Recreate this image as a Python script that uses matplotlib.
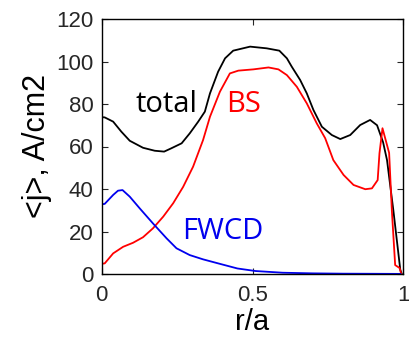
import matplotlib
matplotlib.use("Agg")
import matplotlib.pyplot as plt

# r/a grid and current density profiles (A/cm2)
r_total = [0.0, 0.01, 0.038, 0.065, 0.093, 0.137, 0.176, 0.207, 0.23, 0.265,
           0.292, 0.32, 0.342, 0.359, 0.386, 0.409, 0.436, 0.492, 0.547, 0.589,
           0.614, 0.63, 0.658, 0.68, 0.702, 0.73, 0.763, 0.791, 0.824, 0.857,
           0.89, 0.913, 0.933, 0.946, 0.967, 0.99, 0.995]
j_total = [73.8, 73.7, 71.7, 67.0, 62.7, 59.4, 58.0, 57.6, 59.1, 61.5,
           66.2, 71.7, 76.4, 85.0, 95.2, 101.5, 105.1, 107.0, 106.2, 105.1,
           101.5, 97.6, 91.3, 85.0, 77.2, 69.3, 65.4, 63.5, 65.4, 70.1,
           72.5, 70.0, 62.0, 53.6, 30.0, 2.0, 0.0]

r_bs = [0.0, 0.01, 0.038, 0.071, 0.104, 0.137, 0.17, 0.204, 0.237, 0.27,
        0.303, 0.336, 0.359, 0.392, 0.425, 0.453, 0.503, 0.553, 0.586, 0.614,
        0.647, 0.68, 0.713, 0.741, 0.768, 0.802, 0.835, 0.874, 0.896, 0.915,
        0.921, 0.931, 0.953, 0.962, 0.973, 0.988, 0.993]
j_bs = [4.8, 5.0, 9.7, 12.8, 14.7, 17.3, 21.5, 27.0, 33.3, 41.0,
        50.5, 63.0, 74.0, 85.8, 94.4, 95.7, 96.3, 97.2, 96.3, 93.6,
        88.1, 80.3, 70.9, 63.9, 53.6, 46.6, 41.9, 39.9, 40.3, 44.2,
        56.8, 68.6, 57.0, 30.0, 4.2, 2.8, 0.0]

r_fw = [0.0, 0.01, 0.038, 0.054, 0.069, 0.093, 0.126, 0.17, 0.215, 0.248,
        0.292, 0.336, 0.386, 0.45, 0.51, 0.6, 0.7, 0.8, 0.9, 0.99]
j_fw = [32.8, 33.0, 37.2, 39.2, 39.5, 36.4, 30.9, 23.8, 16.8, 12.1,
        8.9, 6.9, 5.0, 2.6, 1.4, 0.6, 0.3, 0.15, 0.1, 0.05]

labels = ["total", "BS", "FWCD"]
label_pos = [(0.215, 76.2), (0.47, 76.2), (0.4, 16.5)]
colors = ["black", "#ff0000", "#0000ee"]

fig = plt.figure(figsize=(4.1, 3.42), dpi=100)
ax = fig.add_axes([101.7 / 410, 68 / 342, 301.6 / 410, 255 / 342])

ax.plot(r_total, j_total, color=colors[0], lw=1.3)
ax.plot(r_bs, j_bs, color=colors[1], lw=1.3)
ax.plot(r_fw, j_fw, color=colors[2], lw=1.3)

for text, (x, y), c in zip(labels, label_pos, colors):
    ax.text(x, y, text, color=c, fontsize=21, family="Open Sans",
            ha="center", va="baseline")

ax.set_xlim(0, 1)
ax.set_ylim(0, 120)
ax.set_xticks([0, 0.5, 1])
ax.set_xticklabels(["0", "0.5", "1"])
ax.set_yticks([0, 20, 40, 60, 80, 100, 120])
ax.tick_params(direction="in", top=True, right=True, length=4, width=0.8,
               labelsize=16, colors="#262626", labelcolor="#262626")
ax.tick_params(axis="x", pad=8)
ax.tick_params(axis="y", pad=6)
for lbl in ax.get_xticklabels() + ax.get_yticklabels():
    lbl.set_family("Liberation Sans")
for s in ax.spines.values():
    s.set_linewidth(1.0)

ax.set_xlabel("r/a", fontsize=21, family="Liberation Sans", labelpad=1)
ax.set_ylabel("<j>, A/cm2", fontsize=22, family="Liberation Sans", labelpad=3)

fig.savefig("out.png", dpi=100)
